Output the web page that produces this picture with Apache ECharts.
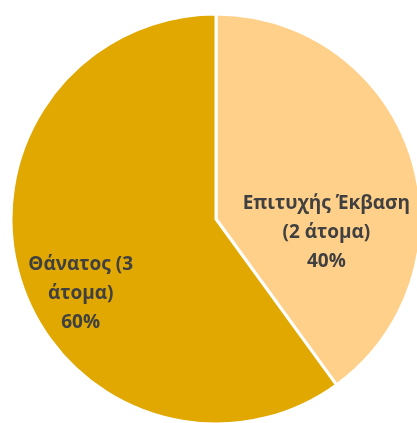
<!DOCTYPE html>
<html><head><meta charset="utf-8">
<script src="https://cdn.jsdelivr.net/npm/echarts@6/dist/echarts.min.js"></script>
<style>html,body{margin:0;padding:0;background:#fff}#c{width:417px;height:423px}</style>
</head><body><div id="c"></div>
<script>
const categories = ['Επιτυχής Έκβαση', 'Θάνατος'];
const counts = [2, 3];
const labelTexts = ['Επιτυχής Έκβαση\n(2 άτομα)\n40%', 'Θάνατος (3\nάτομα)\n60%'];
const colors = ['#FFD08A', '#E0A800'];
const labelShift = [[10, 46], [-35, 42]];

const chart = echarts.init(document.getElementById('c'), null, {renderer: 'canvas'});
chart.setOption({
  animation: false,
  series: [{
    type: 'pie',
    center: [216, 219],
    radius: [0, 205],
    startAngle: 90,
    clockwise: true,
    data: categories.map((c, i) => ({
      name: c, value: counts[i],
      itemStyle: {color: colors[i]},
      label: {formatter: labelTexts[i]}
    })),
    itemStyle: {borderColor: '#fff', borderWidth: 3},
    label: {
      show: true, position: 'inside',
      color: '#404040', fontWeight: 'bold', fontSize: 19,
      fontFamily: 'Open Sans', lineHeight: 29, align: 'center'
    },
    labelLine: {show: false},
    labelLayout: function (p) {
      return {dx: labelShift[p.dataIndex][0], dy: labelShift[p.dataIndex][1]};
    }
  }]
});
</script></body></html>
